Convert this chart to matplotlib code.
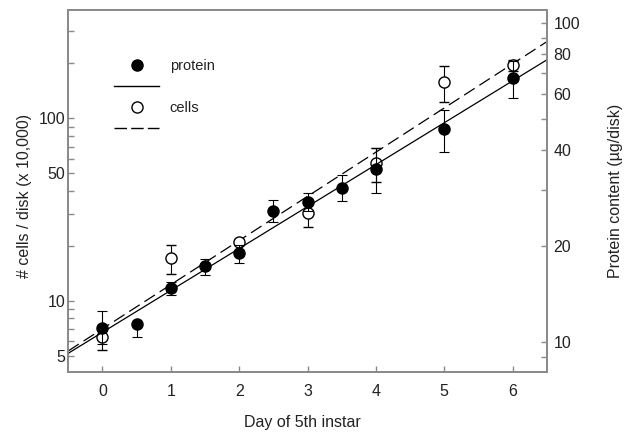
import numpy as np
import matplotlib
matplotlib.use("Agg")
import matplotlib.pyplot as plt
from matplotlib.lines import Line2D
from matplotlib.ticker import FixedLocator, NullFormatter, FixedFormatter

plt.rcParams['font.family'] = ['Liberation Sans', 'DejaVu Sans']

# protein content (right axis, ug/disk), filled circles
protein_days = [0, 0.5, 1, 1.5, 2, 2.5, 3, 3.5, 4, 5, 6]
protein = [11.1, 11.4, 14.8, 17.3, 19.0, 25.8, 27.5, 30.5, 34.9, 46.5, 67.2]
protein_err_lo = [1.2, 1.0, 0.7, 1.0, 1.25, 2.0, 1.8, 2.7, 5.6, 6.9, 9.0]
protein_err_hi = [1.4, 0.0, 0.7, 1.0, 1.25, 2.1, 1.9, 2.9, 5.6, 6.9, 9.0]

# cell number (left axis, x 10,000), open circles
cell_days = [0, 1, 2, 3, 4, 5, 6]
cells = [6.35, 17.1, 21.1, 30.3, 56.7, 158.7, 196.0]
cells_err = [1.0, 3.1, 0.7, 4.9, 12.0, 35.0, 13.0]

# regression lines read at the plot edges
fit_days = [-0.5, 6.5]
protein_fit = [9.24, 76.7]
cells_fit = [5.30, 263.0]

left_ticks = [5, 10, 50, 100]
right_ticks = [10, 20, 40, 60, 80, 100]
right_minor = [9, 30, 50, 70, 90]

spine_col = '#8a8a8a'
txt_col = '#222222'

fig = plt.figure(figsize=(6.28, 4.33), dpi=100)
ax = fig.add_axes([0.1088, 0.1409, 0.7617, 0.8360])
ax2 = ax.twinx()

# cells on the left axis
ax.plot(fit_days, cells_fit, color='k', lw=0.9, dashes=(10, 4.5))
ax.errorbar(cell_days, cells, yerr=cells_err, fmt='o', ms=8, mfc='white',
            mec='k', mew=1.0, ecolor='k', elinewidth=0.8, capsize=3.5,
            capthick=0.8, zorder=3)

# protein on the right axis
ax2.plot(fit_days, protein_fit, color='k', lw=0.9)
ax2.errorbar(protein_days, protein, yerr=[protein_err_lo, protein_err_hi],
             fmt='o', ms=8, color='k', ecolor='k', elinewidth=0.8,
             capsize=3.5, capthick=0.8, zorder=3)

ax.set_xlim(-0.5, 6.5)
ax.set_yscale('log')
ax.set_ylim(4.06, 393)
ax2.set_yscale('log')
ax2.set_ylim(8.07, 110)

ax.set_xticks(range(7))
ax.yaxis.set_major_locator(FixedLocator(left_ticks))
ax.yaxis.set_major_formatter(FixedFormatter([str(v) for v in left_ticks]))
ax.yaxis.set_minor_locator(FixedLocator([6, 7, 8, 9, 20, 30, 40, 60, 70, 80, 90, 200, 300]))
ax.yaxis.set_minor_formatter(NullFormatter())

ax2.yaxis.set_major_locator(FixedLocator(right_ticks))
ax2.yaxis.set_major_formatter(FixedFormatter([str(v) for v in right_ticks]))
ax2.yaxis.set_minor_locator(FixedLocator(right_minor))
ax2.yaxis.set_minor_formatter(NullFormatter())

for a in (ax, ax2):
    for s in a.spines.values():
        s.set_color(spine_col)
        s.set_linewidth(1.3)

ax.tick_params(axis='x', direction='in', length=4, width=1, color=spine_col,
               labelsize=11.5, pad=9, labelcolor=txt_col)
ax.tick_params(axis='y', which='both', direction='in', length=4, width=1,
               color=spine_col, labelsize=11.5, pad=2, labelcolor=txt_col,
               right=False)
ax2.tick_params(axis='y', which='both', direction='in', length=4, width=1,
                color=spine_col, labelsize=11.5, pad=5, labelcolor=txt_col)

ax.set_xlabel('Day of 5th instar', fontsize=11.5, color=txt_col)
ax.set_ylabel('# cells / disk (x 10,000)', fontsize=11.5, color=txt_col)
ax2.set_ylabel('Protein content (\u00b5g/disk)', fontsize=11.5, color=txt_col)
ax.xaxis.set_label_coords(0.49, -0.118)
ax.yaxis.set_label_coords(-0.076, 0.485)
ax2.yaxis.set_label_coords(1.128, 0.5)

handles = [
    Line2D([], [], ls='none', marker='o', ms=8, color='k'),
    Line2D([], [], color='k', lw=1.0),
    Line2D([], [], ls='none', marker='o', ms=8, mfc='white', mec='k', mew=1.0),
    Line2D([], [], color='k', lw=1.0, dashes=(9, 3)),
]
leg = ax2.legend(handles, ['protein', '', 'cells', ''], loc='upper left',
                 bbox_to_anchor=(0.096, 0.864), frameon=False, fontsize=10.5,
                 handlelength=3.1, handletextpad=0.7, labelspacing=0.48,
                 borderpad=0, borderaxespad=0)
for t in leg.get_texts():
    t.set_color(txt_col)

fig.savefig('out.png', dpi=100)
